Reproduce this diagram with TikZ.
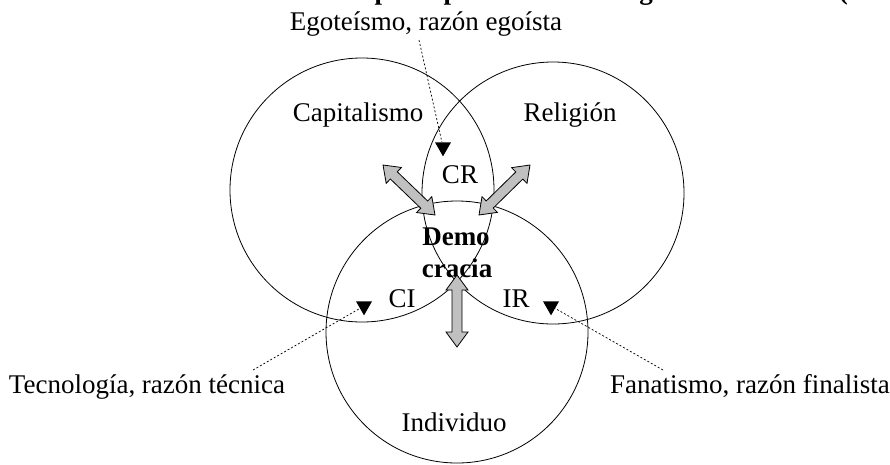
\documentclass[tikz,border=0pt]{standalone}
\usepackage{fontspec}
\setmainfont{Liberation Serif}
\usetikzlibrary{calc,shapes.geometric}
\definecolor{grayfill}{HTML}{C0C0C0}
\newcommand\grayarrow[2]{%
  \draw[garrow]
    (#1)
    -- ($($(#1)!15pt!(#2)$)!11pt!90:(#2)$)
    -- ($($(#1)!15pt!(#2)$)!5pt!90:(#2)$)
    -- ($($(#2)!15pt!(#1)$)!5pt!-90:(#1)$)
    -- ($($(#2)!15pt!(#1)$)!11pt!-90:(#1)$)
    -- (#2)
    -- ($($(#2)!15pt!(#1)$)!11pt!90:(#1)$)
    -- ($($(#2)!15pt!(#1)$)!5pt!90:(#1)$)
    -- ($($(#1)!15pt!(#2)$)!5pt!-90:(#2)$)
    -- ($($(#1)!15pt!(#2)$)!11pt!-90:(#2)$)
    -- cycle;}
\begin{document}
\begin{tikzpicture}[x=1pt,y=-1pt,
  circ/.style={circle, draw, line width=0.8pt, inner sep=0pt, outer sep=0pt},
  lbl/.style={font=\fontsize{27}{30}\selectfont, inner sep=0pt, anchor=base},
  bl/.style={font=\fontsize{27}{30}\selectfont\bfseries, inner sep=0pt, anchor=base},
  tri/.style={isosceles triangle, isosceles triangle stretches, fill=black,
    inner sep=0pt, minimum width=16pt, minimum height=14pt},
  dots/.style={line width=0.7pt, dash pattern=on 2pt off 2pt},
  garrow/.style={line width=0.8pt, draw=black, fill=grayfill, line join=miter}]
\path[use as bounding box, clip] (0,0) rectangle (890,464);
\fill[white] (0,0) rectangle (890,464);

% clipped title line
\node[bl, anchor=base east] (title) at (848,-1)
  {Interrelaciones entre las cuatro esferas principales de la ideología de Star Wars (};

% circles
\node[circ, minimum size=264pt] (cap) at (362,190) {};
\node[circ, minimum size=262pt] (rel) at (553,193) {};
\node[circ, minimum size=262pt] (ind) at (457,332) {};

% labels
\node[lbl] (ego) at (426,30) {Egoteísmo, razón egoísta};
\node[lbl] (capl) at (358,121) {Capitalismo};
\node[lbl] (rell) at (570,121) {Religión};
\node[lbl] (cr) at (460,183) {CR};
\node[bl] (demo) at (456,245) {Demo};
\node[bl] (cracia) at (457,277) {cracia};
\node[lbl] (ci) at (402,307) {CI};
\node[lbl] (ir) at (516,307) {IR};
\node[lbl] (indl) at (454,431) {Individuo};
\node[lbl] (tec) at (147,393) {Tecnología, razón técnica};
\node[lbl] (fan) at (750,393) {Fanatismo, razón finalista};

% triangle markers
\node[tri, shape border rotate=-78] (tCR) at (443,147) {};
\node[tri, shape border rotate=-90] (tCI) at (364,306) {};
\node[tri, shape border rotate=-90] (tIR) at (551,306) {};

% dotted leaders
\coordinate (egoS) at (419,40);
\coordinate (tecS) at (253,370);
\coordinate (fanS) at (663,370);
\draw[dots] (egoS) -- (tCR);
\draw[dots] (tecS) -- (tCI);
\draw[dots] (fanS) -- (tIR);

% gray double arrows
\coordinate (la) at (383,165);
\coordinate (lb) at (435,215);
\coordinate (ra) at (530,165);
\coordinate (rb) at (479,215);
\coordinate (va) at (457,275);
\coordinate (vb) at (457,347);
\grayarrow{la}{lb}
\grayarrow{ra}{rb}
\grayarrow{va}{vb}
\end{tikzpicture}
\end{document}
